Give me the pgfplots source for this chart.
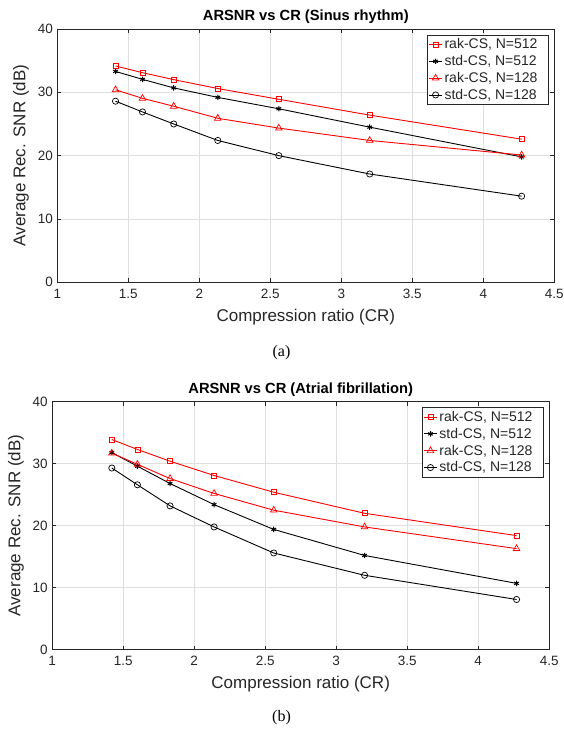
\documentclass[border=0pt]{standalone}
\usepackage{fontspec}
\setmainfont{Liberation Serif}
\newfontfamily\hel{Liberation Sans}
\usepackage{pgfplots}
\pgfplotsset{compat=1.18}
\definecolor{mred}{rgb}{1,0,0}
\definecolor{axgray}{gray}{0.15}
\pgfplotsset{
  myax/.style={
    scale only axis,
    width=497pt,
    xmin=1, xmax=4.5, ymin=0, ymax=40,
    xtick={1,1.5,...,4.5},
    ytick={0,10,20,30,40},
    xticklabels={1,1.5,2,2.5,3,3.5,4,4.5},
    grid=major,
    major grid style={gray!25, line width=0.5pt},
    tick align=inside,
    major tick length=4pt,
    axis line style={axgray, line width=0.6pt},
    tick style={axgray, line width=0.6pt},
    every tick label/.append style={font=\hel\fontsize{13.5}{15}\selectfont, text=black!85},
    xticklabel style={yshift=-3pt},
    yticklabel style={xshift=-1pt},
    /pgf/number format/assume math mode=true,
    xlabel={Compression ratio (CR)},
    ylabel={Average Rec. SNR (dB)},
    label style={font=\hel\fontsize{17}{19}\selectfont, text=black!85},
    xlabel style={yshift=-4pt},
    ylabel style={yshift=2pt},
    title style={font=\hel\bfseries\fontsize{14.7}{17}\selectfont, yshift=-4pt},
    legend style={font=\hel\fontsize{14}{16}\selectfont, draw=axgray, line width=0.6pt,
       at={(0.988,0.977)}, anchor=north east, inner sep=1.5pt,
       row sep=1.2pt, text=black!85},
    legend cell align=left,
    legend image code/.code={\draw[mark repeat=2,mark phase=2,#1] plot coordinates {(0pt,0pt) (6.5pt,0pt) (13pt,0pt)};},
  },
  rak512/.style={mred, line width=0.9pt, mark=square, mark size=2.5pt, mark options={solid, line width=0.7pt}},
  std512/.style={black, line width=0.9pt, mark=asterisk, mark size=2.7pt, mark options={solid, line width=1pt}},
  rak128/.style={mred, line width=0.9pt, mark=triangle, mark size=3.8pt, mark options={solid, line width=0.7pt}},
  std128/.style={black, line width=0.9pt, mark=o, mark size=3.1pt, mark options={solid, line width=0.7pt}},
}
\begin{document}
\begin{tikzpicture}[x=1pt,y=1pt]
\useasboundingbox (0,0) rectangle (563,736);
\begin{axis}[myax, at={(57.3pt,453.7pt)}, anchor=south west, height=253.3pt,
  title={ARSNR vs CR (Sinus rhythm)}]
\addplot[rak512] coordinates {(1.41,34.16) (1.6,33.1) (1.82,32.0) (2.13,30.6) (2.56,28.9) (3.2,26.4) (4.27,22.6)};
\addlegendentry{rak-CS, N=512\hspace*{7pt}}
\addplot[std512] coordinates {(1.41,33.3) (1.6,32.05) (1.82,30.7) (2.13,29.2) (2.56,27.4) (3.2,24.5) (4.27,19.8)};
\addlegendentry{std-CS, N=512\hspace*{7pt}}
\addplot[rak128] coordinates {(1.41,30.4) (1.6,29.05) (1.82,27.8) (2.13,25.9) (2.56,24.35) (3.2,22.4) (4.27,20.1)};
\addlegendentry{rak-CS, N=128\hspace*{7pt}}
\addplot[std128] coordinates {(1.41,28.6) (1.6,26.9) (1.82,25.0) (2.13,22.4) (2.56,20.0) (3.2,17.1) (4.27,13.6)};
\addlegendentry{std-CS, N=128\hspace*{7pt}}
\end{axis}
\node[font=\fontsize{16}{18}\selectfont] at (281.5,383) {(a)};
\begin{axis}[myax, at={(52.2pt,86.3pt)}, anchor=south west, height=248pt,
  title={ARSNR vs CR (Atrial fibrillation)}]
\addplot[rak512] coordinates {(1.42,33.9) (1.6,32.3) (1.83,30.4) (2.14,28.1) (2.56,25.4) (3.2,22.0) (4.27,18.4)};
\addlegendentry{rak-CS, N=512\hspace*{7pt}}
\addplot[std512] coordinates {(1.42,31.8) (1.6,29.6) (1.83,26.8) (2.14,23.4) (2.56,19.4) (3.2,15.2) (4.27,10.7)};
\addlegendentry{std-CS, N=512\hspace*{7pt}}
\addplot[rak128] coordinates {(1.42,31.7) (1.6,29.9) (1.83,27.6) (2.14,25.2) (2.56,22.5) (3.2,19.8) (4.27,16.3)};
\addlegendentry{rak-CS, N=128\hspace*{7pt}}
\addplot[std128] coordinates {(1.42,29.3) (1.6,26.6) (1.83,23.2) (2.14,19.8) (2.56,15.6) (3.2,12.0) (4.27,8.1)};
\addlegendentry{std-CS, N=128\hspace*{7pt}}
\end{axis}
\node[font=\fontsize{16}{18}\selectfont] at (281.5,18) {(b)};
\end{tikzpicture}
\end{document}
